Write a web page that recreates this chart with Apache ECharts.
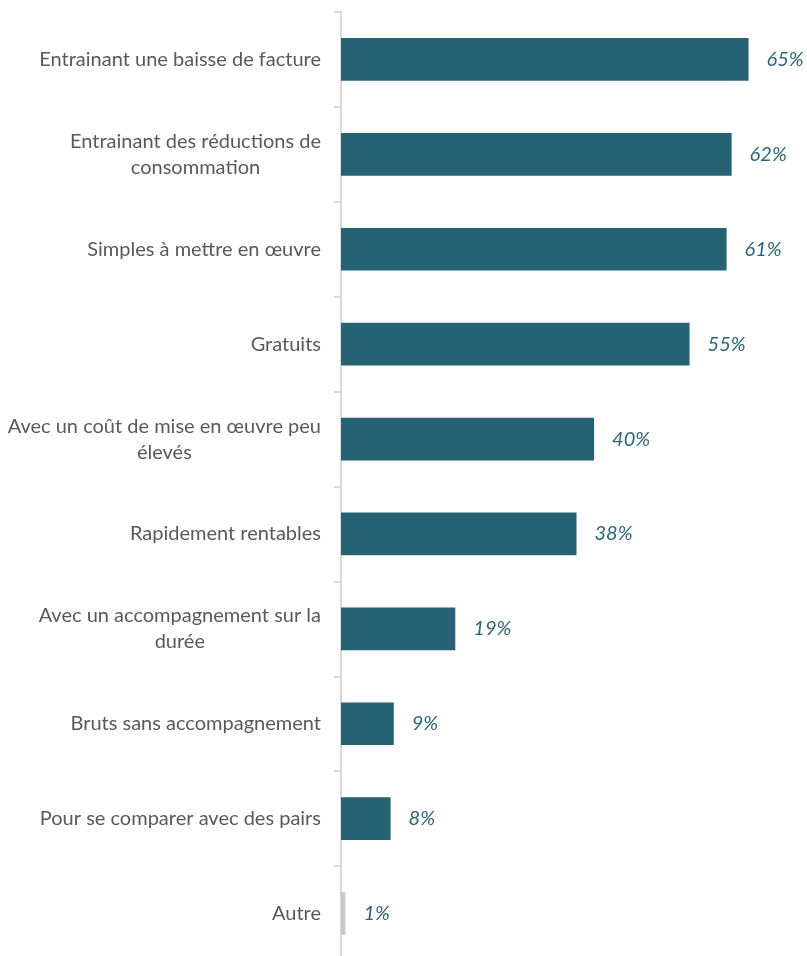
<!DOCTYPE html>
<html>
<head>
<meta charset="utf-8">
<script src="https://cdn.jsdelivr.net/npm/echarts@6/dist/echarts.min.js"></script>
<style>
  html, body { margin: 0; padding: 0; background: #fff; }
  #chart { width: 807px; height: 956px; }
</style>
</head>
<body>
<div id="chart"></div>
<script>
  // categories, top to bottom
  const categories = [
    'Entrainant une baisse de facture',
    'Entrainant des réductions de\nconsommation',
    'Simples à mettre en œuvre',
    'Gratuits',
    'Avec un coût de mise en œuvre peu\nélevés',
    'Rapidement rentables',
    'Avec un accompagnement sur la\ndurée',
    'Bruts sans accompagnement',
    'Pour se comparer avec des pairs',
    'Autre'
  ]
  // bar lengths (%)
  const values = [64.9, 62.2, 61.4, 55.5, 40.3, 37.5, 18.2, 8.4, 7.9, 0.7]
  // printed labels
  const valueLabels = ['65%', '62%', '61%', '55%', '40%', '38%', '19%', '9%', '8%', '1%']

  const mainColor = '#266273'
  const otherColor = '#c8c8c8'

  const chart = echarts.init(document.getElementById('chart'))

  chart.setOption({
    animation: false,
    grid: {
      left: 341,
      top: 12,
      width: 628,
      height: 949,
      containLabel: false,
      outerBoundsMode: 'none'
    },
    xAxis: {
      type: 'value',
      min: 0,
      max: 100,
      show: false
    },
    yAxis: {
      type: 'category',
      inverse: true,
      data: categories,
      axisLine: {
        show: true,
        lineStyle: { color: '#d9d9d9', width: 2 }
      },
      axisTick: {
        show: true,
        inside: false,
        alignWithLabel: false,
        length: 7,
        lineStyle: { color: '#d9d9d9', width: 2 }
      },
      axisLabel: {
        margin: 20,
        fontFamily: 'Lato',
        fontSize: 20,
        color: '#595959',
        formatter: v => v.split('\n').map(l => '{c|' + l + '}').join('\n'),
        rich: {
          c: {
            align: 'center',
            fontFamily: 'Lato',
            fontSize: 20,
            color: '#595959',
            lineHeight: 26
          }
        }
      }
    },
    series: [{
      type: 'bar',
      barWidth: '45%',
      data: values.map((v, i) => ({
        value: v,
        itemStyle: { color: i === values.length - 1 ? otherColor : mainColor }
      })),
      label: {
        show: true,
        position: 'right',
        distance: 18,
        fontFamily: 'Lato',
        fontStyle: 'italic',
        fontSize: 20,
        color: '#2e6576',
        formatter: p => valueLabels[p.dataIndex]
      }
    }]
  })
</script>
</body>
</html>
